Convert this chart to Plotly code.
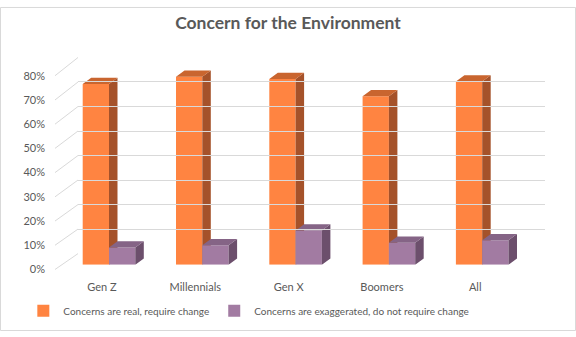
import plotly.graph_objects as go

categories = ["Gen Z", "Millennials", "Gen X", "Boomers", "All"]
real_change = [0.74, 0.77, 0.76, 0.69, 0.75]
exaggerated = [0.07, 0.08, 0.14, 0.09, 0.10]
series_names = ["Concerns are real, require change",
                "Concerns are exaggerated, do not require change"]
y_ticks = [0, 0.1, 0.2, 0.3, 0.4, 0.5, 0.6, 0.7, 0.8]

W, H = 576, 337
ORANGE = ["#FF8441", "#A5522A", "#C9652F"]   # front, side, top
PURPLE = ["#A27BA2", "#6C4F6C", "#856486"]
GRID = "#D9D9D9"
TXT = "#595959"
FONT = "Lato"

# pixel geometry (converted to axis units)
slot = 93.3          # px per category
join0 = 109          # px of first category join
bw_px = 26.3
dx_px, dy_px = 8.5, 6.5
bar_bottom, bar_px_per = 268, 254.0   # px per 1.0 (100%)

def py(p):
    return 1 - p / H

x0 = -join0 / slot
x1 = (W - join0) / slot
bw = bw_px / slot
dx = dx_px / slot
dy = dy_px / bar_px_per
idx = list(range(len(categories)))

bar_dom = [py(bar_bottom), py(bar_bottom - 0.8 * bar_px_per)]
back_dom = [py(256.5), py(52.5)]
front_dom = [py(273), py(71.5)]

def faces(vals, off):
    sx, sy, tx, ty = [], [], [], []
    for i, v in zip(idx, vals):
        xl = i + off
        xr = xl + bw
        sx += [xr, xr + dx, xr + dx, xr, xr, None]
        sy += [0, dy, v + dy, v, 0, None]
        tx += [xl, xr, xr + dx, xl + dx, xl, None]
        ty += [v, v, v + dy, v + dy, v, None]
    return sx, sy, tx, ty

fig = go.Figure()

# back wall dummy trace (creates the x2/y subplot)
fig.add_trace(go.Scatter(x=[0.5], y=[0], xaxis="x2", yaxis="y", mode="markers",
                         marker=dict(opacity=0), showlegend=False, hoverinfo="skip"))
# front label axis dummy
fig.add_trace(go.Scatter(x=[0], y=[0], xaxis="x", yaxis="y2", mode="markers",
                         marker=dict(opacity=0), showlegend=False, hoverinfo="skip"))

for vals, cols, name, off, ya in [(real_change, ORANGE, series_names[0], -bw, "y3"),
                                  (exaggerated, PURPLE, series_names[1], 0.0, "y4")]:
    fig.add_trace(go.Bar(x=idx, y=vals, width=bw, offset=off, name=name,
                         marker=dict(color=cols[0], line=dict(width=0)),
                         xaxis="x", yaxis=ya, hoverinfo="skip"))
    sx, sy, tx, ty = faces(vals, off)
    fig.add_trace(go.Scatter(x=sx, y=sy, fill="toself", fillcolor=cols[1], mode="lines",
                             line=dict(width=0), xaxis="x", yaxis=ya,
                             showlegend=False, hoverinfo="skip"))
    fig.add_trace(go.Scatter(x=tx, y=ty, fill="toself", fillcolor=cols[2], mode="lines",
                             line=dict(width=0), xaxis="x", yaxis=ya,
                             showlegend=False, hoverinfo="skip"))

shapes = []
for t in y_ticks:
    fy = front_dom[0] + t / 0.8 * (front_dom[1] - front_dom[0])
    by = back_dom[0] + t / 0.8 * (back_dom[1] - back_dom[0])
    shapes.append(dict(type="line", xref="paper", yref="paper",
                       x0=55 / W, y0=fy, x1=78 / W, y1=by,
                       line=dict(color=GRID, width=1), layer="below"))
shapes.append(dict(type="rect", xref="paper", yref="paper",
                   x0=0.5 / W, y0=0.5 / H, x1=1 - 0.5 / W, y1=1 - 0.5 / H,
                   line=dict(color=GRID, width=1), layer="below"))

fig.update_layout(
    width=W, height=H,
    margin=dict(l=0, r=0, t=0, b=0),
    paper_bgcolor="white", plot_bgcolor="rgba(0,0,0,0)",
    barmode="overlay",
    font=dict(family=FONT, color=TXT, size=11),
    title=dict(text="<b>Concern for the Environment</b>", x=0.5, xanchor="center",
               y=py(23), yanchor="middle", font=dict(family=FONT, size=17.5, color=TXT)),
    shapes=shapes,
    showlegend=True,
    legend=dict(orientation="h", x=0.432, xanchor="center", y=py(316), yanchor="middle",
                font=dict(family=FONT, size=10, color=TXT), itemwidth=30,
                traceorder="normal"),
    xaxis=dict(domain=[0, 1], range=[x0, x1], anchor="y3", showgrid=False,
               zeroline=False, showline=False, ticks="", ticklabelstandoff=14,
               tickvals=[i - 7 / slot for i in idx], ticktext=categories,
               tickfont=dict(size=11, color=TXT)),
    xaxis2=dict(domain=[78 / W, 545 / W], range=[0, 1], anchor="y", visible=False),
    yaxis=dict(domain=back_dom, range=[0, 0.8], anchor="x2", tickvals=y_ticks,
               showgrid=True, gridcolor=GRID, gridwidth=1, showticklabels=False,
               zeroline=False, showline=False, ticks=""),
    yaxis2=dict(domain=front_dom, range=[0, 0.8], anchor="free", position=45 / W,
                tickvals=y_ticks, tickformat=".0%", showgrid=False, zeroline=False,
                showline=False, ticks="", tickfont=dict(size=11, color=TXT)),
    yaxis3=dict(domain=bar_dom, range=[0, 0.8], anchor="x", showgrid=False,
                zeroline=False, showticklabels=False, showline=False),
    yaxis4=dict(domain=bar_dom, range=[0, 0.8], anchor="x", overlaying="y3",
                showgrid=False, zeroline=False, showticklabels=False, showline=False),
)

fig.write_html("out.html")
